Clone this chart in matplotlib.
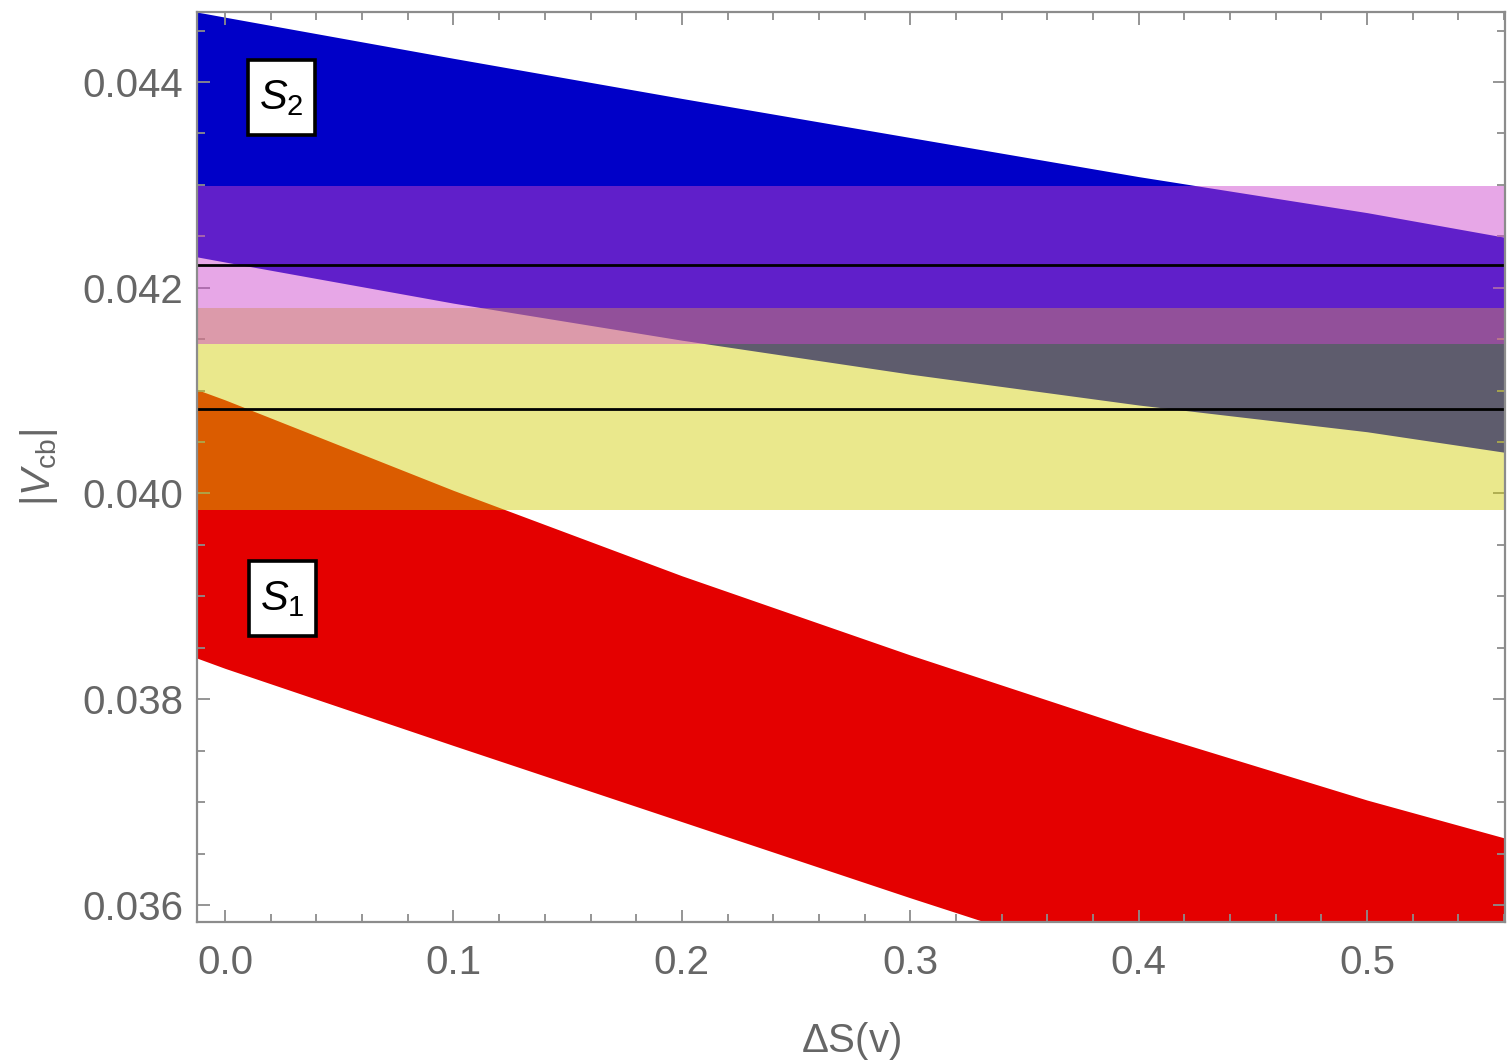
import numpy as np
import matplotlib
matplotlib.use("Agg")
import matplotlib.pyplot as plt
from matplotlib.patches import Rectangle
from matplotlib.ticker import MultipleLocator, FormatStrFormatter

plt.rcParams['font.family'] = ['Liberation Sans', 'DejaVu Sans']
plt.rcParams['mathtext.fontset'] = 'custom'
plt.rcParams['mathtext.rm'] = 'Liberation Sans'
plt.rcParams['mathtext.it'] = 'Liberation Sans:italic'

# band edges, at these Delta S values
ds = [-0.0123, 0.0, 0.1, 0.2, 0.3, 0.4, 0.5, 0.5604]
s2_upper = [0.04468, 0.04463, 0.04423, 0.04384, 0.04346, 0.04308, 0.04273, 0.04249]
s2_lower = [0.04230, 0.04225, 0.04185, 0.04149, 0.04116, 0.04086, 0.04060, 0.04040]
s1_upper = [0.04101, 0.04091, 0.04003, 0.03920, 0.03843, 0.03770, 0.03702, 0.03665]
s1_lower = [0.03840, 0.03830, 0.03755, 0.03681, 0.03607, 0.03535, 0.03465, 0.03420]

# horizontal bands: central value and half width
yellow_c, yellow_w = 0.04082, 0.00098
pink_c, pink_w = 0.04222, 0.00077

GRAY = '#8c8c8c'
TXT = '#666666'

fig = plt.figure(figsize=(15.07, 10.64), dpi=100)
ax = fig.add_axes([0.1307, 0.1335, 0.868, 0.8552])

ax.fill_between(ds, s1_lower, s1_upper, color='#e40000', lw=0, zorder=1)
ax.fill_between(ds, s2_lower, s2_upper, color='#0000c8', lw=0, zorder=1)
ax.axhspan(yellow_c - yellow_w, yellow_c + yellow_w, color=(0.824, 0.804, 0.0), alpha=0.45, lw=0, zorder=2)
ax.axhspan(pink_c - pink_w, pink_c + pink_w, color=(0.808, 0.267, 0.804), alpha=0.47, lw=0, zorder=3)
ax.axhline(pink_c, color='black', lw=2, zorder=4)
ax.axhline(yellow_c, color='black', lw=2, zorder=4)

# label boxes (axes fraction)
for (bx, by, lab) in [(0.039, 0.8648, r'$S_2$'), (0.0398, 0.3143, r'$S_1$')]:
    ax.add_patch(Rectangle((bx, by), 0.0512, 0.0825, transform=ax.transAxes,
                           fc='white', ec='black', lw=2.6, zorder=5))
    ax.text(bx + 0.0256, by + 0.041, lab, transform=ax.transAxes, fontsize=30,
            ha='center', va='center', zorder=6)

ax.set_xlim(-0.0123, 0.5604)
ax.set_ylim(0.035835, 0.04468)

ax.xaxis.set_major_locator(MultipleLocator(0.1))
ax.xaxis.set_minor_locator(MultipleLocator(0.02))
ax.yaxis.set_major_locator(MultipleLocator(0.002))
ax.yaxis.set_minor_locator(MultipleLocator(0.0005))
ax.xaxis.set_major_formatter(FormatStrFormatter('%.1f'))
ax.yaxis.set_major_formatter(FormatStrFormatter('%.3f'))

ax.tick_params(which='both', direction='in', top=True, right=True, color=GRAY,
               labelcolor=TXT, labelsize=29, width=1.3)
ax.tick_params(which='major', length=9)
ax.tick_params(which='minor', length=6)
ax.tick_params(axis='x', pad=16)
ax.tick_params(axis='y', pad=10)
for sp in ax.spines.values():
    sp.set_color(GRAY)
    sp.set_linewidth(1.6)
    sp.set_zorder(7)

ax.set_xlabel(r'$\Delta$S(v)', fontsize=29, color=TXT, labelpad=27)
ax.set_ylabel(r'$|V_{\rm cb}|$', fontsize=29, color=TXT, labelpad=16)

fig.savefig('out.png', dpi=100)
